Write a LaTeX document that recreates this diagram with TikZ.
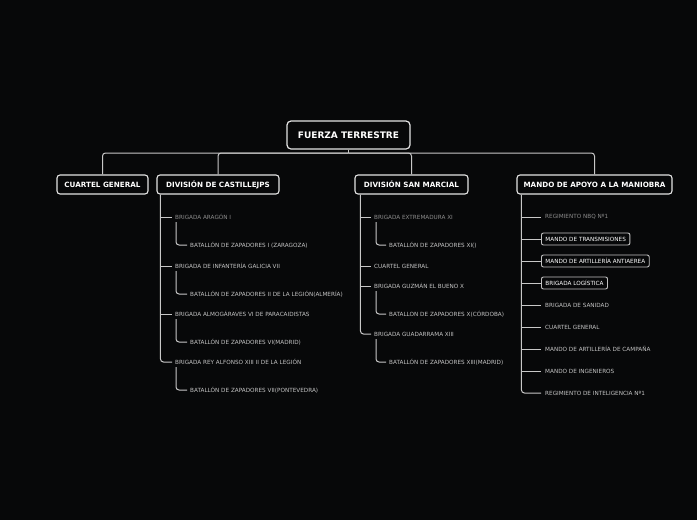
\documentclass[tikz,border=0pt]{standalone}
\usepackage{fontspec}
\setmainfont{DejaVu Sans}
\definecolor{bg}{HTML}{070809}
\definecolor{edge}{HTML}{E4E4E4}
\definecolor{wire}{HTML}{C8C8C8}
\definecolor{leaftxt}{HTML}{C4C4C4}
\definecolor{dimtxt}{HTML}{8C8C8C}
\begin{document}
\begin{tikzpicture}[x=1pt,y=-1pt,
  rootbox/.style={draw=edge,line width=1.2pt,rounded corners=4pt,fill=bg,text=white,
    font=\fontsize{9}{10}\selectfont\bfseries,inner xsep=2pt,minimum width=123pt,minimum height=28pt},
  lvlbox/.style={draw=edge,line width=1.1pt,rounded corners=3pt,fill=bg,text=white,
    font=\fontsize{7.2}{8}\selectfont\bfseries,inner xsep=2pt,minimum height=19pt},
  leaf/.style={anchor=west,inner sep=0pt,text=leaftxt,font=\fontsize{5.7}{6.5}\selectfont},
  dimleaf/.style={leaf,text=dimtxt},
  mleaf/.style={anchor=west,inner xsep=4pt,inner ysep=0pt,minimum height=12pt,text=leaftxt,
    font=\fontsize{5.7}{6.5}\selectfont},
  mbox/.style={mleaf,draw=edge!85!black,line width=0.9pt,rounded corners=2pt,text=white},
  conn/.style={draw=wire,line width=1pt},
  rconn/.style={conn,rounded corners=3pt}
]
\path[fill=bg] (0,0) rectangle (697,520);

% root and level 1
\node[rootbox] (root) at (348.5,135) {FUERZA TERRESTRE};
\node[lvlbox,minimum width=91pt] (cg) at (102.5,184.5) {CUARTEL GENERAL};
\node[lvlbox,minimum width=122pt] (dc) at (218,184.5) {DIVISIÓN DE CASTILLEJPS};
\node[lvlbox,minimum width=113pt] (dsm) at (411.5,184.5) {DIVISIÓN SAN MARCIAL};
\node[lvlbox,minimum width=155pt] (mam) at (594.5,184.5) {MANDO DE APOYO A LA MANIOBRA};

\coordinate (bus) at (348.5,153);
\draw[conn] (root.south) -- (bus);
\draw[rconn] (bus) -| (cg.north);
\draw[rconn] (bus) -| (dc.north);
\draw[rconn] (bus) -| (dsm.north);
\draw[rconn] (bus) -| (mam.north);

% Division de Castillejos
\node[dimleaf] (b1) at (175,217) {BRIGADA ARAGÓN I};
\node[leaf] (z1) at (190,245) {BATALLÓN DE ZAPADORES I (ZARAGOZA)};
\node[leaf] (b2) at (175,266) {BRIGADA DE INFANTERÍA GALICIA VII};
\node[leaf] (z2) at (190,294) {BATALLÓN DE ZAPADORES II DE LA LEGIÓN(ALMERÍA)};
\node[leaf] (b3) at (175,314) {BRIGADA ALMOGÁRAVES VI DE PARACAIDISTAS};
\node[leaf] (z3) at (190,342) {BATALLÓN DE ZAPADORES VI(MADRID)};
\node[leaf] (b4) at (175,362) {BRIGADA REY ALFONSO XIII II DE LA LEGIÓN};
\node[leaf] (z4) at (190,390) {BATALLÓN DE ZAPADORES VII(PONTEVEDRA)};

\coordinate (dcv) at ([xshift=4pt]dc.south west);
\draw[rconn,shorten >=3pt] (dcv) |- (b4.west);
\foreach \b in {b1,b2,b3}
  \draw[conn,shorten >=3pt] (dcv |- \b.west) -- (\b.west);
\foreach \b/\z in {b1/z1,b2/z2,b3/z3,b4/z4}
  \draw[rconn,shorten >=3pt] ([xshift=1pt,yshift=-5pt]\b.west) |- (\z.west);

% Division San Marcial
\node[dimleaf] (s1) at (374,217) {BRIGADA EXTREMADURA XI};
\node[leaf] (sz1) at (389,245) {BATALLÓN DE ZAPADORES XI()};
\node[leaf] (s2) at (374,266) {CUARTEL GENERAL};
\node[leaf] (s3) at (374,286) {BRIGADA GUZMÁN EL BUENO X};
\node[leaf] (sz3) at (389,314) {BATALLON DE ZAPADORES X(CÓRDOBA)};
\node[leaf] (s4) at (374,334) {BRIGADA GUADARRAMA XIII};
\node[leaf] (sz4) at (389,362) {BATALLÓN DE ZAPADORES XIII(MADRID)};

\coordinate (smv) at ([xshift=6pt]dsm.south west);
\draw[rconn,shorten >=3pt] (smv) |- (s4.west);
\foreach \b in {s1,s2,s3}
  \draw[conn,shorten >=3pt] (smv |- \b.west) -- (\b.west);
\foreach \b/\z in {s1/sz1,s3/sz3,s4/sz4}
  \draw[rconn,shorten >=3pt] ([xshift=2pt,yshift=-5pt]\b.west) |- (\z.west);

% Mando de apoyo a la maniobra
\node[mleaf,text=dimtxt] (m1) at (541,217) {REGIMIENTO NBQ Nº1};
\node[mbox] (m2) at (541,239) {MANDO DE TRANSMISIONES};
\node[mbox] (m3) at (541,261) {MANDO DE ARTILLERÍA ANTIAEREA};
\node[mbox] (m4) at (541,283) {BRIGADA LOGÍSTICA};
\node[mleaf] (m5) at (541,305) {BRIGADA DE SANIDAD};
\node[mleaf] (m6) at (541,327) {CUARTEL GENERAL};
\node[mleaf] (m7) at (541,349) {MANDO DE ARTILLERÍA DE CAMPAÑA};
\node[mleaf] (m8) at (541,371) {MANDO DE INGENIEROS};
\node[mleaf] (m9) at (541,393) {REGIMIENTO DE INTELIGENCIA Nº1};

\coordinate (mav) at ([xshift=5pt]mam.south west);
\draw[rconn] (mav) |- (m9.west);
\foreach \m in {m1,m2,m3,m4,m5,m6,m7,m8}
  \draw[conn] (mav |- \m.west) -- (\m.west);
\end{tikzpicture}
\end{document}
